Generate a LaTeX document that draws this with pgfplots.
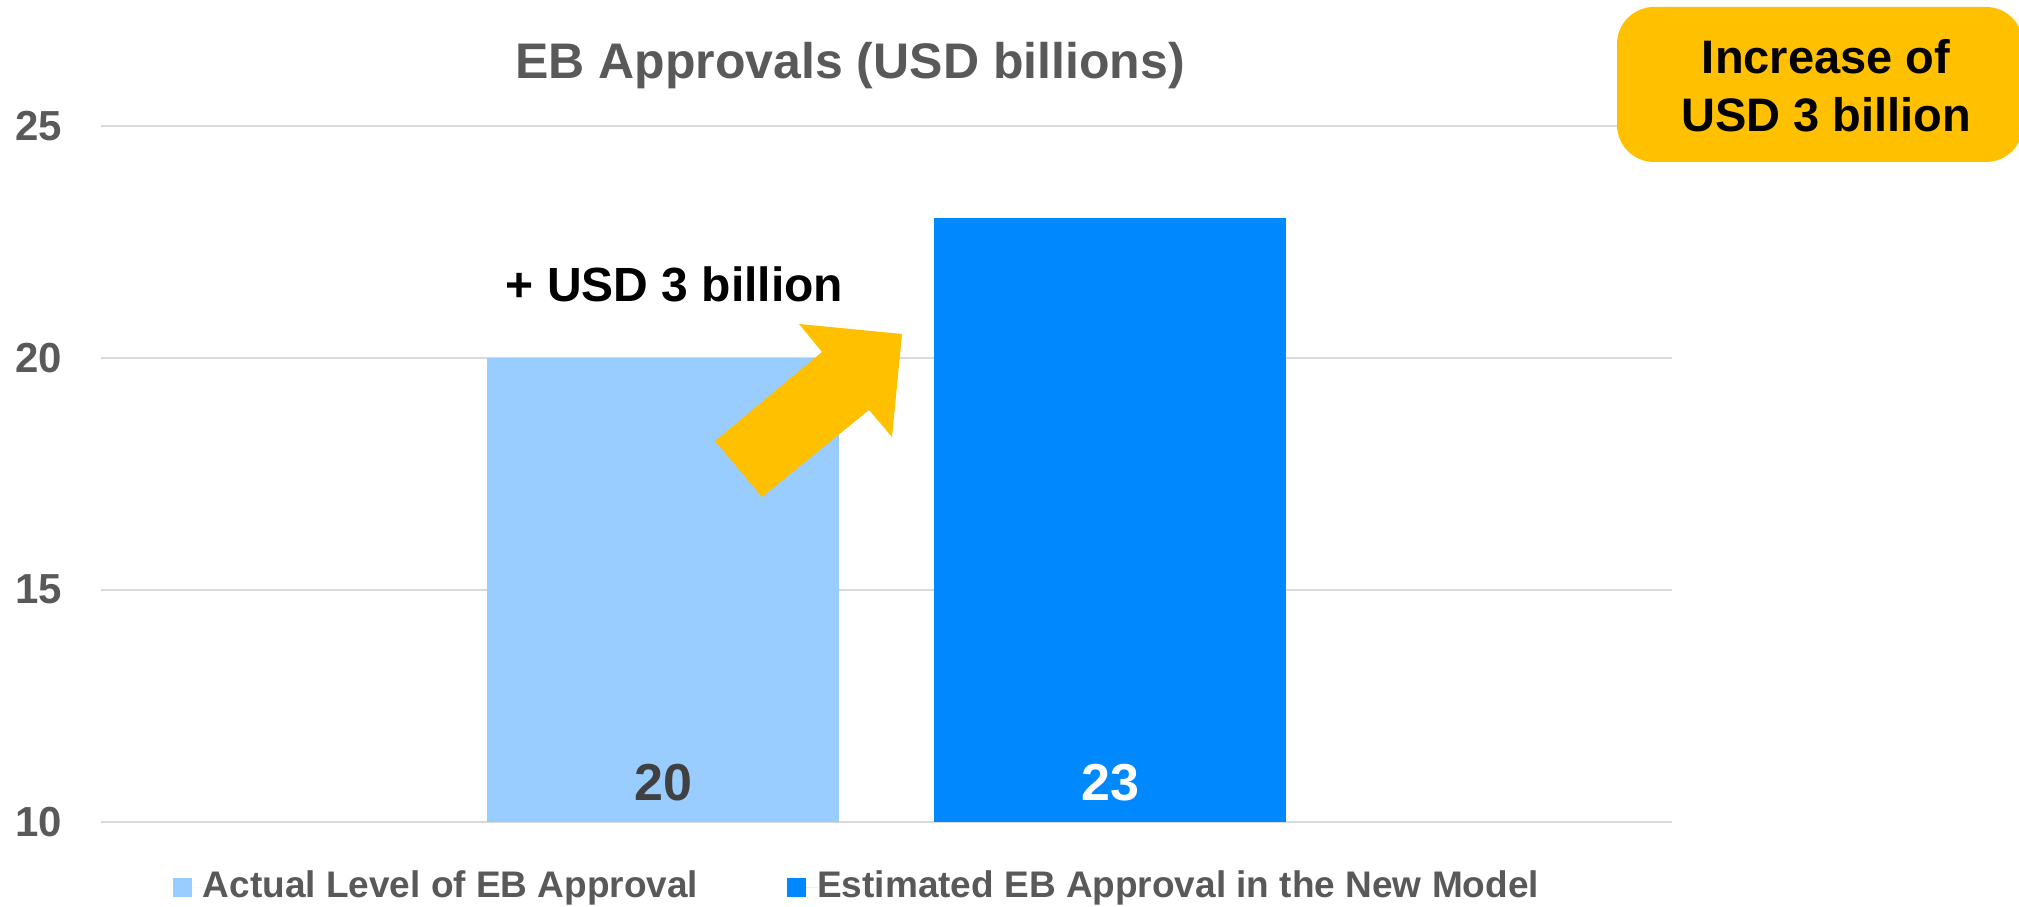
\documentclass[border=0pt]{standalone}
\usepackage{pgfplots}
\pgfplotsset{compat=1.18}
\usepackage{fontspec}
\setmainfont{Liberation Sans}
\definecolor{txtgray}{HTML}{595959}
\definecolor{lblgray}{HTML}{404040}
\definecolor{lightbar}{HTML}{99CCFF}
\definecolor{darkbar}{HTML}{0088FF}
\definecolor{accent}{HTML}{FFC000}
\definecolor{gridgray}{HTML}{D9D9D9}
\pgfplotsset{
  sqlegend/.style={legend image code/.code={%
      \path (0pt,0pt) -- (7.5pt,0pt);
      \fill[##1] (0pt,-2.375pt) rectangle (4.75pt,2.375pt);}},
}
\begin{document}
\begin{tikzpicture}
  \begin{axis}[
    at={(0,0)}, anchor=south west,
    scale only axis,
    width=392.75pt, height=174pt,
    xmin=-0.2573, xmax=3.2573,
    ymin=10, ymax=25,
    xtick=\empty,
    ytick={10,15,20,25},
    yticklabels={10,15,20,25},
    yticklabel style={font=\fontsize{10.5}{12}\selectfont\bfseries, text=txtgray,
      inner sep=0pt, xshift=-9.5pt},
    ymajorgrids,
    grid style={draw=gridgray, line width=0.5pt},
    axis line style={draw=none},
    major tick length=0pt,
    legend columns=2,
    legend style={draw=none, fill=none, at={(0.0452,-0.0945)}, anchor=west,
      inner sep=0pt, font=\fontsize{9.25}{11}\selectfont\bfseries, text=txtgray,
      nodes={inner sep=0pt},
      /tikz/every even column/.append style={column sep=22.25pt}},
    ]
    \addplot[ybar, bar width=0.7875, bar shift=0pt, fill=lightbar, draw=none, sqlegend]
      coordinates {(1,20)};
    \addlegendentry{Actual Level of EB Approval}
    \addplot[ybar, bar width=0.7875, bar shift=0pt, fill=darkbar, draw=none, sqlegend]
      coordinates {(2,23)};
    \addlegendentry{Estimated EB Approval in the New Model}
    \node[anchor=base, yshift=5.4pt, inner sep=0pt, text=lblgray,
      font=\fontsize{13}{15}\selectfont\bfseries] at (axis cs:1,10) {20};
    \node[anchor=base, yshift=5.4pt, inner sep=0pt, text=white,
      font=\fontsize{13}{15}\selectfont\bfseries] at (axis cs:2,10) {23};
  \end{axis}
  % annotations in reference pixel units
  \begin{scope}[x=0.25pt, y=-0.25pt, shift={(-101,-821.7)}]
    \node[anchor=base, inner sep=0pt, text=txtgray,
      font=\fontsize{12.5}{15}\selectfont\bfseries] at (850,79) {EB Approvals (USD billions)};
    \node[anchor=base west, inner sep=0pt,
      font=\fontsize{12}{14}\selectfont\bfseries] at (505,302) {+ USD 3 billion};
    \fill[accent] (715,441) -- (822,352) -- (799,324) -- (902,334) -- (892,437)
      -- (869,410) -- (762,497) -- cycle;
    \fill[accent, rounded corners=9.25pt] (1617,7) rectangle (2023,162);
    \node[anchor=base, inner sep=0pt,
      font=\fontsize{11.75}{14}\selectfont\bfseries] at (1826,74) {Increase of};
    \node[anchor=base, inner sep=0pt,
      font=\fontsize{11.75}{14}\selectfont\bfseries] at (1826,132) {USD 3 billion};
    \pgfresetboundingbox
    \path[use as bounding box] (0,0) rectangle (2019,907);
  \end{scope}
\end{tikzpicture}
\end{document}
